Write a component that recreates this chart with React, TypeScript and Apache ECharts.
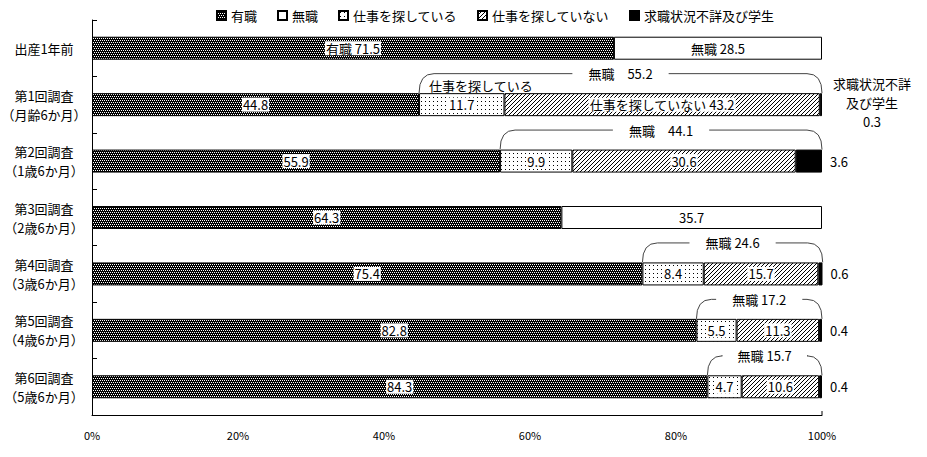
import React, { useEffect, useRef } from "react";
import * as echarts from "echarts";

const FONT = '"Noto Sans CJK JP", "Noto Sans", sans-serif';

const categories = [
  "出産1年前",
  "第1回調査\n（月齢6か月）",
  "第2回調査\n（1歳6か月）",
  "第3回調査\n（2歳6か月）",
  "第4回調査\n（3歳6か月）",
  "第5回調査\n（4歳6か月）",
  "第6回調査\n（5歳6か月）",
];
const seriesNames = ["有職", "無職", "仕事を探している", "仕事を探していない", "求職状況不詳及び学生"];
const employed = [71.5, 44.8, 55.9, 64.3, 75.4, 82.8, 84.3];
const notEmployedUndivided: (number | null)[] = [28.5, null, null, 35.7, null, null, null];
const seeking: (number | null)[] = [null, 11.7, 9.9, null, 8.4, 5.5, 4.7];
const notSeeking: (number | null)[] = [null, 43.2, 30.6, null, 15.7, 11.3, 10.6];
const unknownOrStudent: (number | null)[] = [null, 0.3, 3.6, null, 0.6, 0.4, 0.4];
const notEmployedTotal = [28.5, 55.2, 44.1, 35.7, 24.6, 17.2, 15.7];
const bracketSpacer = ["", "　", "　", "", " ", " ", " "];

const BAR_W = 23;

function makePattern(w: number, h: number, fn: (x: number, y: number) => boolean) {
  const c = document.createElement("canvas");
  c.width = w;
  c.height = h;
  const ctx = c.getContext("2d")!;
  ctx.fillStyle = "#fff";
  ctx.fillRect(0, 0, w, h);
  ctx.fillStyle = "#000";
  for (let y = 0; y < h; y++) for (let x = 0; x < w; x++) if (fn(x, y)) ctx.fillRect(x, y, 1, 1);
  return c;
}

export default function App() {
  const ref = useRef<HTMLDivElement>(null);
  useEffect(() => {
    document.body.style.margin = "0";
    const chart = echarts.init(ref.current!, null, { renderer: "svg" });

    const checker = makePattern(4, 4, (x, y) => !((y === 0 && (x === 0 || x === 2)) || (y === 2 && (x === 1 || x === 3))));
    const dots = makePattern(4, 4, (x, y) => x === 1 && y === 1);
    const hatch = makePattern(4, 4, (x, y) => x + y === 3);
    const fills: any[] = [
      { image: checker, repeat: "repeat" },
      "#ffffff",
      { image: dots, repeat: "repeat" },
      { image: hatch, repeat: "repeat" },
      "#000000",
    ];

    const baseLabel = {
      show: true,
      position: "inside",
      color: "#000",
      fontSize: 13,
      fontFamily: FONT,
      backgroundColor: "#fff",
      padding: [1, 1, 0, 1],
      textBorderWidth: 0,
    };

    const mk = (idx: number, data: any[], label: any) => ({
      name: seriesNames[idx],
      type: "bar",
      stack: "total",
      barWidth: BAR_W,
      itemStyle: { color: fills[idx], borderColor: "#000", borderWidth: 1 },
      emphasis: { disabled: true },
      label,
      data,
    });

    const series = [
      mk(0, employed, {
        ...baseLabel,
        formatter: (p: any) => (p.dataIndex === 0 ? `有職 ${p.value}` : `${p.value}`),
      }),
      mk(1, notEmployedUndivided, {
        ...baseLabel,
        backgroundColor: "transparent",
        formatter: (p: any) => (p.dataIndex === 0 ? `無職 ${p.value}` : `${p.value}`),
      }),
      mk(2, seeking, { ...baseLabel, formatter: (p: any) => `${p.value}` }),
      mk(3, notSeeking, {
        ...baseLabel,
        formatter: (p: any) => (p.dataIndex === 1 ? `仕事を探していない ${p.value}` : `${p.value}`),
      }),
      mk(
        4,
        unknownOrStudent.map((v, i) =>
          i === 1
            ? {
                value: v,
                label: {
                  formatter: `求職状況不詳\n及び学生\n${v}`,
                  align: "center",
                  distance: 50,
                  lineHeight: 19,
                  offset: [0, -2],
                },
              }
            : v
        ),
        {
          show: true,
          position: "right",
          distance: 8,
          color: "#000",
          fontSize: 13,
          fontFamily: FONT,
          formatter: (p: any) => `${p.value}`,
        }
      ),
    ];

    chart.setOption({
      animation: false,
      grid: { left: 92, right: 105, top: 20, bottom: 42, outerBoundsMode: "none" },
      legend: {
        left: 211,
        top: 4,
        icon: "rect",
        itemWidth: 9,
        itemHeight: 9,
        itemGap: 20,
        textStyle: { fontSize: 13, fontFamily: FONT, color: "#000" },
        data: seriesNames,
        selectedMode: false,
      },
      xAxis: {
        type: "value",
        min: 0,
        max: 100,
        interval: 20,
        axisLine: { show: true, lineStyle: { color: "#000", width: 1 } },
        axisTick: { show: false },
        splitLine: { show: false },
        axisLabel: { formatter: "{value}%", fontSize: 11, fontFamily: FONT, color: "#000", margin: 14 },
      },
      yAxis: {
        type: "category",
        inverse: true,
        data: categories,
        axisLine: { show: true, lineStyle: { color: "#000", width: 1 } },
        axisTick: { show: true, inside: true, length: 5, lineStyle: { color: "#000" } },
        axisLabel: {
          align: "center",
          margin: 48,
          fontSize: 13,
          lineHeight: 19,
          fontFamily: FONT,
          color: "#000",
        },
      },
      series,
    });

    // Brackets for 無職 totals
    const measure = document.createElement("canvas").getContext("2d")!;
    measure.font = `13px ${FONT}`;
    const graphics: any[] = [];
    const stroke = { stroke: "#444", lineWidth: 1, fill: null };
    categories.forEach((_, i) => {
      if (seeking[i] == null) return;
      const startVal = employed[i];
      const endVal = employed[i] + (seeking[i] || 0) + (notSeeking[i] || 0) + (unknownOrStudent[i] || 0);
      const [x0, py] = chart.convertToPixel({ gridIndex: 0 }, [startVal, i]) as number[];
      const [x1] = chart.convertToPixel({ gridIndex: 0 }, [endVal, i]) as number[];
      const barTop = py - BAR_W / 2;
      const top = barTop - 19.5;
      const r = 15;
      const cx = (x0 + x1) / 2;
      const text = `無職${bracketSpacer[i]}${notEmployedTotal[i]}`;
      const tw = measure.measureText(text).width;
      const gap = tw / 2 + 16;
      graphics.push(
        { type: "bezierCurve", silent: true, z: 10, shape: { x1: x0, y1: barTop, cpx1: x0, cpy1: top, x2: x0 + r, y2: top }, style: stroke },
        { type: "line", silent: true, z: 10, shape: { x1: x0 + r, y1: top, x2: cx - gap, y2: top }, style: stroke },
        { type: "line", silent: true, z: 10, shape: { x1: cx + gap, y1: top, x2: x1 - r, y2: top }, style: stroke },
        { type: "bezierCurve", silent: true, z: 10, shape: { x1: x1 - r, y1: top, cpx1: x1, cpy1: top, x2: x1, y2: barTop }, style: stroke },
        {
          type: "text",
          silent: true,
          z: 10,
          x: cx,
          y: top,
          style: { text, fontSize: 13, fontFamily: FONT, fill: "#000", align: "center", verticalAlign: "middle" },
        }
      );
      if (i === 1) {
        graphics.push({
          type: "text",
          silent: true,
          z: 11,
          x: x0 + 10,
          y: barTop - 8,
          style: { text: seriesNames[2], fontSize: 13, fontFamily: FONT, fill: "#000", align: "left", verticalAlign: "middle" },
        });
      }
    });
    // small tick at the right end of the x axis
    const gridRect = (chart as any).getModel().getComponent("grid", 0).coordinateSystem.getRect();
    const ex = gridRect.x + gridRect.width;
    const ey = gridRect.y + gridRect.height;
    graphics.push({ type: "line", silent: true, shape: { x1: ex, y1: ey, x2: ex, y2: ey - 4 }, style: { stroke: "#000", lineWidth: 1 } });
    chart.setOption({ graphic: graphics });

    return () => chart.dispose();
  }, []);
  return <div ref={ref} style={{ width: 927, height: 457 }} />;
}
